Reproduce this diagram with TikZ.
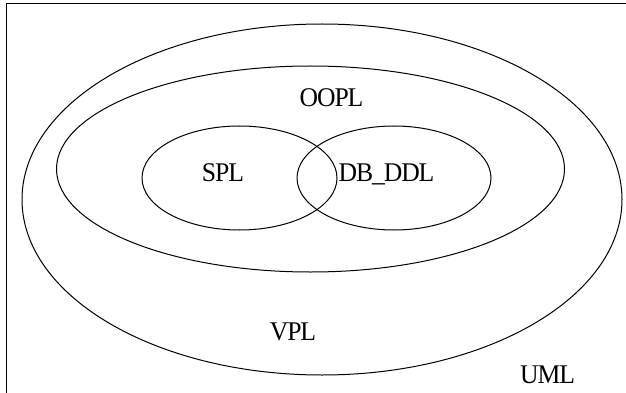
\documentclass[tikz,border=0pt]{standalone}
\usepackage{fontspec}
\setmainfont[FakeStretch=0.95,LetterSpace=-4]{Liberation Serif}
\usetikzlibrary{shapes.geometric}
\tikzset{lab/.style={font=\fontsize{27pt}{27pt}\selectfont,inner sep=0pt,anchor=base},
frameline/.style={line width=1.4pt,black}}
\begin{document}
\begin{tikzpicture}[x=1pt,y=-1pt,line width=1pt]
\useasboundingbox (0,0) rectangle (626,393);
\coordinate (tl) at (6.7,3.5); \coordinate (tr) at (626,3.5); \coordinate (bl) at (6.7,393);
\draw[frameline] (tr) -- (tl) -- (bl);
\draw (322,199.5) ellipse [x radius=300, y radius=175.5];
\draw (310.5,169) ellipse [x radius=254, y radius=103];
\draw (239.5,178) ellipse [x radius=97.5, y radius=52];
\draw (394,178) ellipse [x radius=97, y radius=52];
\node[lab] (oopl) at (331.5,107) {OOPL};
\node[lab] (spl) at (223,181) {SPL};
\node[lab] (db) at (386.5,181) {DB\_DDL};
\node[lab] (vpl) at (293,340) {VPL};
\node[lab] (uml) at (547.5,383) {UML};
\end{tikzpicture}
\end{document}
